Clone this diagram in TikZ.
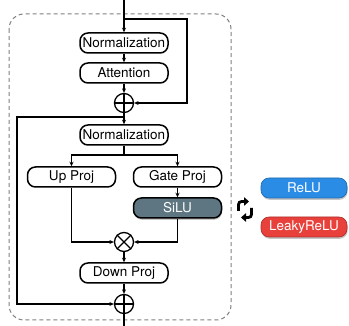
\documentclass[tikz,border=0pt]{standalone}
\usepackage{fontspec}
\setmainfont{TeX Gyre Heros}
\usetikzlibrary{arrows.meta,shadows}
\definecolor{silu}{HTML}{5E7681}
\definecolor{relu}{HTML}{2B8CE6}
\definecolor{leaky}{HTML}{E8403A}
\begin{document}
\begin{tikzpicture}[x=1pt,y=-1pt,
  blk/.style={draw, line width=1.5pt, rounded corners=8pt, minimum width=88pt, minimum height=20pt, inner sep=0pt, font=\fontsize{13.5}{15}\selectfont},
  colblk/.style={blk, text=white, drop shadow={opacity=0.45, shadow xshift=0.6pt, shadow yshift=-1.8pt}},
  opnode/.style={circle, draw, line width=1.3pt, minimum size=19pt, inner sep=0pt},
  conn/.style={line width=1.2pt},
  arr/.style={conn, -{Stealth[length=4.5pt,width=4pt]}},
  icon/.style={line width=2.8pt, rounded corners=3pt, -{Triangle[length=5pt,width=8.5pt]}}
]
\useasboundingbox (0,0) rectangle (349,326);
% dashed container
\draw[dashed, dash pattern=on 4pt off 3pt, gray, line width=1pt, rounded corners=15pt] (9,14) rectangle (231,320);

\node[blk] (n1) at (124,43) {Normalization};
\node[blk] (att) at (124,73) {Attention};
\node[opnode] (p1) at (124,103) {};
\node[blk] (n2) at (124,135) {Normalization};
\node[blk] (up) at (71.5,177) {Up Proj};
\node[blk] (gate) at (177.5,177) {Gate Proj};
\node[colblk, fill=silu, draw=black] (silu) at (177.5,208) {SiLU};
\node[opnode] (mul) at (124,242) {};
\node[blk] (down) at (124,273) {Down Proj};
\node[opnode] (p2) at (124,304) {};
\node[colblk, fill=relu, draw=relu!75!black, line width=0.6pt, minimum width=86pt] (relu) at (304,188) {ReLU};
\node[colblk, fill=leaky, draw=leaky!75!black, line width=0.6pt, minimum width=86pt] (leaky) at (304,227) {LeakyReLU};

% operator symbols
\draw[line width=1.3pt] (p1.north) -- (p1.south) (p1.west) -- (p1.east);
\draw[line width=1.3pt] (p2.north) -- (p2.south) (p2.west) -- (p2.east);
\draw[line width=1.3pt] (mul.north east) -- (mul.south west) (mul.north west) -- (mul.south east);

% coordinates
\coordinate (top) at (124,0);
\coordinate (s1) at (124,19);
\coordinate (r1) at (187,103);
\coordinate (s2) at (124,117);
\coordinate (l2) at (17,304);
\coordinate (sp) at (124,155);
\coordinate (bot) at (124,326);

% connectors
\draw[arr] (top) -- (n1);
\draw[arr] (s1) -| (r1) -- (p1.east);
\draw[arr] (n1) -- (att);
\draw[arr] (att) -- (p1);
\draw[arr] (p1) -- (n2);
\draw[arr] (s2) -| (l2) -- (p2.west);
\draw[conn] (n2) -- (sp);
\draw[arr] (sp) -| (up);
\draw[arr] (sp) -| (gate);
\draw[arr] (gate) -- (silu);
\draw[arr] (up) |- (mul);
\draw[arr] (silu) |- (mul);
\draw[arr] (mul) -- (down);
\draw[arr] (down) -- (p2);
\draw[conn] (p2) -- (bot);

% swap icon
\draw[icon] (238.5,211) -- (238.5,201.5) -- (249,201.5);
\draw[icon] (251.5,208) -- (251.5,217.5) -- (241,217.5);
\end{tikzpicture}
\end{document}
